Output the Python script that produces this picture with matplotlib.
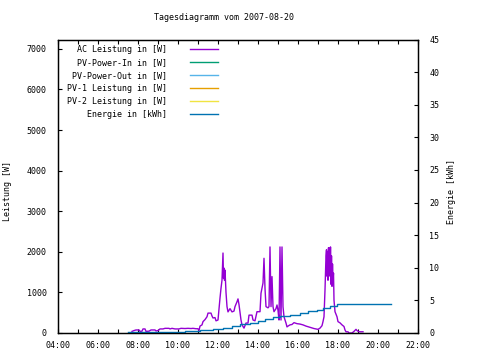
import matplotlib
matplotlib.use("Agg")
import matplotlib.pyplot as plt
from matplotlib.lines import Line2D

plt.rcParams['font.family'] = ['DejaVu Sans Mono']
plt.rcParams['font.size'] = 6

title = "Tagesdiagramm vom 2007-08-20"

# AC power, time in decimal hours
ac_time = [7.70, 7.80, 7.90, 8.05, 8.10, 8.20, 8.25, 8.35, 8.40, 8.55, 8.65, 8.85, 8.90,
           9.00, 9.10, 9.25, 9.35, 9.55, 9.60, 9.70, 9.85, 10.05, 10.15, 10.35, 10.50,
           10.65, 10.75, 10.90, 11.00, 11.05, 11.10, 11.20, 11.25, 11.35, 11.45, 11.50,
           11.65, 11.70, 11.75, 11.85, 11.90, 12.00, 12.05, 12.10, 12.15, 12.20, 12.25,
           12.275, 12.30, 12.325, 12.35, 12.375, 12.40, 12.45, 12.50, 12.60, 12.70,
           12.80, 12.85, 12.95, 13.00, 13.05, 13.10, 13.15, 13.20, 13.30, 13.40, 13.50,
           13.55, 13.70, 13.75, 13.85, 13.95, 14.10, 14.15, 14.25, 14.30, 14.35, 14.40,
           14.50, 14.55, 14.60, 14.65, 14.70, 14.75, 14.80, 14.90, 14.95, 15.00, 15.05,
           15.10, 15.15, 15.20, 15.25, 15.30, 15.40, 15.45, 15.50, 15.60, 15.70, 15.80,
           15.95, 16.10, 16.25, 16.40, 16.60, 16.80, 17.00, 17.10, 17.20, 17.25, 17.30,
           17.35, 17.40, 17.425, 17.45, 17.475, 17.50, 17.525, 17.55, 17.575, 17.60,
           17.625, 17.65, 17.675, 17.70, 17.725, 17.75, 17.775, 17.80, 17.85, 17.95,
           18.00, 18.10, 18.20, 18.30, 18.35, 18.40, 18.50, 18.55, 18.70, 18.80, 18.90,
           18.95, 19.05, 19.25]
ac_power = [40, 60, 75, 75, 40, 45, 100, 100, 40, 45, 75, 75, 50,
            60, 100, 100, 115, 115, 100, 115, 100, 100, 115, 110, 115,
            110, 115, 105, 105, 60, 170, 200, 280, 330, 400, 490,
            490, 420, 370, 380, 300, 320, 600, 860, 1100, 1300, 1970,
            1350, 1600, 1300, 1550, 1250, 1000, 650, 520, 600, 520,
            540, 650, 770, 840, 700, 500, 320, 200, 120, 245, 245,
            440, 440, 320, 300, 525, 525, 980, 1230, 1840, 1100, 650,
            620, 650, 2120, 650, 1390, 650, 525, 600, 690, 560, 320,
            2120, 320, 2120, 650, 400, 245, 150, 170, 200, 210, 255,
            230, 220, 200, 170, 140, 110, 90, 120, 180, 280, 400,
            1060, 1900, 2050, 1400, 2000, 1300, 2100, 1550, 2090, 1400,
            2120, 1200, 1900, 1150, 1700, 1300, 1475, 810, 525, 400,
            280, 250, 200, 160, 75, 30, 30, 0, 0, 40, 90,
            60, 30, 30]

# daily energy in kWh
en_time = [7.50, 10.35, 11.10, 11.75, 12.25, 12.70, 13.10, 13.60, 14.00, 14.35, 14.75,
           15.10, 15.60, 16.10, 16.50, 16.95, 17.25, 17.60, 17.95, 20.65]
en_kwh = [0.1, 0.3, 0.45, 0.65, 0.8, 1.05, 1.35, 1.6, 1.9, 2.15, 2.4,
          2.6, 2.75, 3.0, 3.3, 3.5, 3.8, 4.15, 4.4, 4.4]

labels = ["AC Leistung in [W]", "PV-Power-In in [W]", "PV-Power-Out in [W]",
          "PV-1 Leistung in [W]", "PV-2 Leistung in [W]", "Energie in [kWh]"]
colors = ["#9400d3", "#009e73", "#56b4e9", "#e69f00", "#f0e442", "#0072b2"]

x_ticks = list(range(4, 23, 2))
x_ticklabels = ["%02d:00" % h for h in x_ticks]

fig = plt.figure(figsize=(4.8, 3.6), dpi=100)
ax = fig.add_axes([58 / 480, 1 - 333 / 360, 360 / 480, 293.5 / 360])
ax2 = ax.twinx()

ax.plot(ac_time, ac_power, color=colors[0], lw=1.0)
ax2.plot(en_time, en_kwh, color=colors[5], lw=1.0, drawstyle="steps-post")

ax.set_xlim(4, 22)
ax.set_ylim(0, 7230)
ax2.set_ylim(0, 45)

ax.set_xticks(x_ticks)
ax.set_xticklabels(x_ticklabels)
ax.set_xticks(range(5, 22, 2), minor=True)
ax.set_yticks(range(0, 7001, 1000))
ax2.set_yticks(range(0, 46, 5))

ax.tick_params(axis="x", which="both", direction="in", length=3, width=0.8,
               top=True, pad=6)
ax.tick_params(axis="y", direction="in", length=3, width=0.8, pad=8)
ax2.tick_params(axis="y", direction="in", length=3, width=0.8, pad=8)
for a in (ax, ax2):
    for s in a.spines.values():
        s.set_linewidth(0.9)

fig.text(8 / 480, 1 - 191 / 360, "Leistung [W]", rotation=90, ha="center", va="center")
fig.text(452 / 480, 1 - 192 / 360, "Energie [kWh]", rotation=90, ha="center", va="center")
fig.text(224 / 480, 1 - 18 / 360, title, ha="center", va="center")

# legend drawn gnuplot style: text right aligned, sample line to the right
for i, (lab, col) in enumerate(zip(labels, colors)):
    y = 1 - (49.3 + 13 * i) / 360
    fig.text(167 / 480, y, lab, ha="right", va="center")
    fig.add_artist(Line2D([190 / 480, 218 / 480], [y, y], color=col, lw=1.0,
                          transform=fig.transFigure))

fig.savefig("out.png", dpi=100)
